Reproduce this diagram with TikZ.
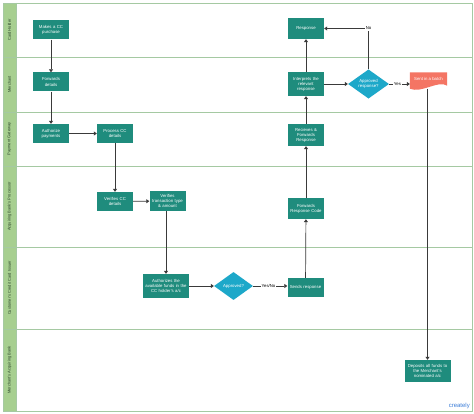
\documentclass[tikz,border=0pt]{standalone}
\usepackage{fontspec}
\setmainfont{Liberation Sans}
\usetikzlibrary{shapes.geometric,arrows.meta}
\definecolor{teal}{HTML}{1F8C7D}
\definecolor{cyanD}{HTML}{1DA8C9}
\definecolor{salmon}{HTML}{F47564}
\definecolor{laneFill}{HTML}{A7CF90}
\definecolor{laneLine}{HTML}{A5C9A2}
\definecolor{lineC}{HTML}{3A3A3A}
\definecolor{lblC}{HTML}{2A442A}
\definecolor{crBlue}{HTML}{3B7DD8}
\begin{document}
\begin{tikzpicture}[x=1pt,y=-1pt,
  proc/.style={fill=teal,text=white,align=center,font=\fontsize{4.3}{5.1}\selectfont,inner sep=0.5pt,minimum width=36pt,minimum height=19pt,text width=34pt},
  dec/.style={diamond,fill=cyanD,text=white,align=center,font=\fontsize{4.3}{5.1}\selectfont,inner sep=0pt},
  lanelbl/.style={rotate=90,text=lblC,font=\fontsize{4}{4.8}\selectfont},
  lbl/.style={font=\fontsize{4.3}{5}\selectfont,inner sep=0.6pt,text=black},
  conn/.style={draw=lineC,line width=0.7pt,-{Triangle[width=4pt,length=3pt]}},
  seg/.style={draw=lineC,line width=0.7pt}]
\useasboundingbox (0,0) rectangle (474,414);
% lanes
\fill[white] (0,0) rectangle (474,414);
\fill[laneFill] (3,3) rectangle (16,411);
\foreach \y in {57,112,166,247,329} {\draw[laneLine,line width=0.9pt] (3,\y) -- (472,\y);}
\draw[laneLine,line width=0.9pt] (3,3) rectangle (472,411);
\draw[laneLine,line width=0.9pt] (16,3) -- (16,411);
\node[lanelbl] (l1) at (9.5,30) {Card Holder};
\node[lanelbl] (l2) at (9.5,84.5) {Merchant};
\node[lanelbl] (l3) at (9.5,139) {Payment Gateway};
\node[lanelbl] (l4) at (9.5,206.5) {Acquiring Bank's Processor};
\node[lanelbl] (l5) at (9.5,288) {Customer's Credit Card Issuer};
\node[lanelbl] (l6) at (9.5,370) {Merchant's Acquiring Bank};
% nodes
\node[proc] (purchase) at (51,30) {Makes a CC\\purchase};
\node[proc] (fwd) at (51,82) {Forwards\\details};
\node[proc] (auth) at (51,133.5) {Authorize\\payments};
\node[proc] (process) at (115,133.5) {Process CC\\details};
\node[proc] (verCC) at (115,201.5) {Verifies CC\\details};
\node[proc,minimum height=20pt] (verTr) at (167.5,201) {Verifies\\transaction type\\\& amount};
\node[proc,minimum width=46pt,text width=44pt,minimum height=24pt] (funds) at (166,286) {Authorizes the\\available funds in the\\CC holder's a/c};
\node[dec,minimum width=39pt,minimum height=28pt] (appr) at (233.5,286) {Approved?};
\node[proc] (sends) at (305.5,287.5) {Sends response};
\node[proc,minimum height=21pt] (fwdCode) at (306,208.5) {Forwards\\Response Code};
\node[proc,minimum height=22pt] (recv) at (306,135) {Recieves \&\\Forwards\\Response};
\node[proc,minimum height=24pt] (interp) at (306,84) {Interprets the\\relevant\\response};
\node[proc,minimum height=21pt] (resp) at (306,28.5) {Response};
\node[dec,minimum width=41pt,minimum height=29pt] (apResp) at (368.5,84) {Approved\\response?};
\node[minimum width=37pt,minimum height=15pt,inner sep=0pt] (batch) at (428.5,80) {};
\fill[salmon] (batch.north west) -- (batch.north east) -- ([yshift=2pt]batch.south east)
  .. controls ([xshift=-9pt,yshift=8pt]batch.south east) and ([xshift=12pt,yshift=-6pt]batch.south west) .. ([yshift=-1pt]batch.south west) -- cycle;
\node[text=white,font=\fontsize{4.3}{5}\selectfont] (batchT) at ([yshift=1pt]batch.center) {Sent in a batch};
\node[proc,minimum width=46pt,text width=44pt,minimum height=22pt] (deposit) at (427.5,371) {Deposits all funds to\\the Merchant's\\nominated a/c};
% labels
\node[lbl,fill=white] (no) at (368.5,28.5) {No};
\node[lbl,fill=white] (yes) at (397.5,84) {Yes};
\node[lbl,fill=white] (yesno) at (268.5,286) {Yes/No};
% connectors
\draw[conn] (purchase) -- (fwd);
\draw[conn] (fwd) -- (auth);
\draw[conn] (auth) -- (process);
\draw[conn] (process) -- (verCC);
\draw[conn] (verCC) -- (verTr);
\draw[conn] (verTr.south -| funds.north) -- (funds.north);
\draw[conn] (funds) -- (appr);
\draw[seg] (appr.east) -- (yesno.west);
\draw[conn] (yesno.east) -- (sends.west |- yesno.east);
\draw[conn] (sends) -- (fwdCode);
\draw[conn] (fwdCode) -- (recv);
\draw[conn] (recv) -- (interp);
\draw[conn] (interp) -- (resp);
\draw[conn] (interp) -- (apResp);
\draw[seg] (apResp.north) -- (no.south);
\draw[conn] (no.west) -- (resp.east);
\draw[seg] (apResp.east) -- (yes.west);
\draw[conn] (yes.east) -- (batch.west |- yes.east);
\draw[conn] ([yshift=-1pt]deposit.north |- batch.south) -- (deposit.north);
% watermark
\node[text=crBlue,font=\fontsize{6}{7}\selectfont,anchor=south east,inner sep=0pt] (wm) at (470,409) {creately};
\end{tikzpicture}
\end{document}
